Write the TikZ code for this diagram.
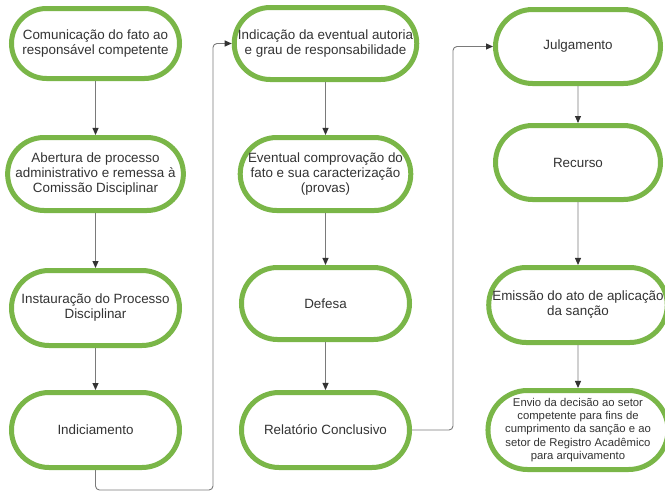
\documentclass[tikz,border=0pt]{standalone}
\usepackage{fontspec}
\setmainfont{Liberation Sans}
\usetikzlibrary{shapes.misc,arrows.meta}
\definecolor{boxgreen}{HTML}{7AB648}
\definecolor{txtcol}{HTML}{333333}
\definecolor{linecol}{HTML}{7A7A7A}
\tikzset{
  stadium/.style={rounded rectangle, draw=boxgreen, line width=5pt, fill=white,
    minimum width=170pt, minimum height=73pt, align=center, text=txtcol,
    inner sep=1pt, font=\fontsize{13.4}{15}\selectfont},
  smalltxt/.style={font=\fontsize{11.3}{13.3}\selectfont},
  conn/.style={draw=linecol, line width=0.9pt, rounded corners=4pt,
    -{Triangle[length=7pt,width=6pt,color=txtcol]}}
}
\begin{document}
\begin{tikzpicture}[x=1pt,y=-1pt]
\useasboundingbox (0,0) rectangle (665,493);
% column 1
\node[stadium, minimum height=70pt] (b1) at (95.5,43.5) {Comunicação do fato ao\\responsável competente};
\node[stadium] (b2) at (95.5,174) {Abertura de processo\\administrativo e remessa à\\Comissão Disciplinar};
\node[stadium, minimum height=75pt] (b3) at (95.5,308) {Instauração do Processo\\Disciplinar};
\node[stadium, minimum height=75pt] (b4) at (95.5,430) {Indiciamento};
% column 2
\node[stadium, minimum height=72pt] (c1) at (325.5,43.5) {Indicação da eventual autoria\\e grau de responsabilidade};
\node[stadium] (c2) at (325.5,174) {Eventual comprovação do\\fato e sua caracterização\\(provas)};
\node[stadium, minimum height=72pt] (c3) at (325.5,303.5) {Defesa};
\node[stadium, minimum height=75pt] (c4) at (325.5,430) {Relatório Conclusivo};
% column 3
\node[stadium, minimum width=167pt, minimum height=74pt] (d1) at (578,46.5) {Julgamento};
\node[stadium, minimum width=167pt, minimum height=74pt] (d2) at (578,162.5) {Recurso};
\node[stadium, minimum width=167pt, minimum height=75pt] (d3) at (578,305) {Emissão do ato de aplicação\\da sanção};
\node[stadium, smalltxt, minimum width=167pt, minimum height=79pt] (d4) at (578,430) {Envio da decisão ao setor\\competente para fins de\\cumprimento da sanção e ao\\setor de Registro Acadêmico\\para arquivamento};
% connectors
\draw[conn] (b1) -- (b2);
\draw[conn] (b2) -- (b3);
\draw[conn] (b3) -- (b4);
\draw[conn] (b4.south) -- ++(0,20) -| (213,43.5) -- (c1.west);
\draw[conn] (c1) -- (c2);
\draw[conn] (c2) -- (c3);
\draw[conn] (c3) -- (c4);
\draw[conn] (c4.east) -- (453,430) |- (d1.west);
\draw[conn] (d1) -- (d2);
\draw[conn] (d2) -- (d3);
\draw[conn] (d3) -- (d4);
\end{tikzpicture}
\end{document}
